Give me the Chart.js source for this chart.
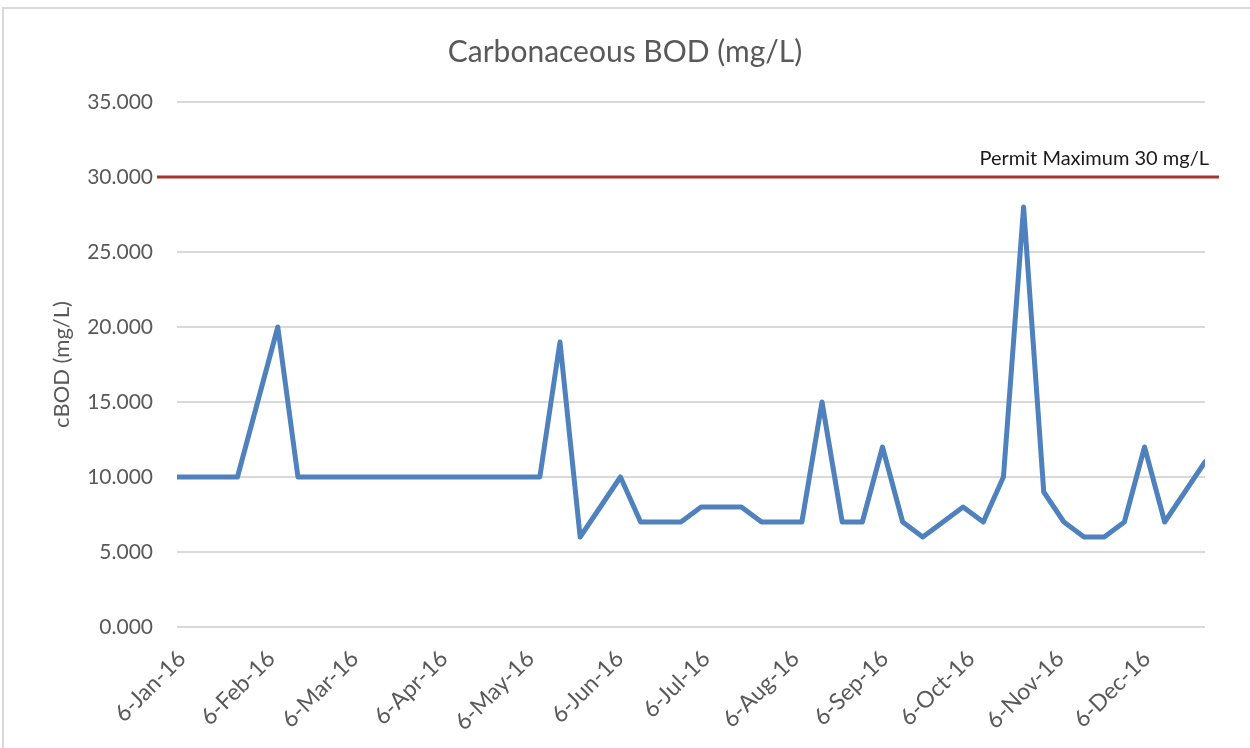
<!DOCTYPE html>
<html>
<head>
<meta charset="utf-8">
<script src="https://cdn.jsdelivr.net/npm/chart.js@4.4.1/dist/chart.umd.min.js"></script>
<style>
  html, body { margin: 0; padding: 0; background: #ffffff; }
  #wrap { width: 1250px; height: 748px; position: relative; }
  canvas { display: block; }
</style>
</head>
<body>
<div id="wrap"><canvas id="c" width="1250" height="748"></canvas></div>
<script>
// ---- Data ----
const sampleDates = [
  '2016-01-06','2016-01-13','2016-01-20','2016-01-27',
  '2016-02-10','2016-02-17','2016-02-24','2016-03-02','2016-03-09','2016-03-16',
  '2016-03-23','2016-03-30','2016-04-06','2016-04-13','2016-04-20','2016-04-27',
  '2016-05-04','2016-05-11','2016-05-18','2016-05-25',
  '2016-06-08','2016-06-15','2016-06-22','2016-06-29','2016-07-06','2016-07-13',
  '2016-07-20','2016-07-27','2016-08-03','2016-08-10','2016-08-17','2016-08-24',
  '2016-08-31','2016-09-07','2016-09-14','2016-09-21',
  '2016-10-05','2016-10-12','2016-10-19','2016-10-26','2016-11-02','2016-11-09',
  '2016-11-16','2016-11-23','2016-11-30','2016-12-07','2016-12-14',
  '2016-12-28'
];
const cbodValues = [
  10, 10, 10, 10,
  20, 10, 10, 10, 10, 10,
  10, 10, 10, 10, 10, 10,
  10, 10, 19, 6,
  10, 7, 7, 7, 8, 8,
  8, 7, 7, 7, 15, 7,
  7, 12, 7, 6,
  8, 7, 10, 28, 9, 7,
  6, 6, 7, 12, 7,
  11
];
const tickDates = [
  '2016-01-06','2016-02-06','2016-03-06','2016-04-06','2016-05-06','2016-06-06',
  '2016-07-06','2016-08-06','2016-09-06','2016-10-06','2016-11-06','2016-12-06'
];
const tickLabels = [
  '6-Jan-16','6-Feb-16','6-Mar-16','6-Apr-16','6-May-16','6-Jun-16',
  '6-Jul-16','6-Aug-16','6-Sep-16','6-Oct-16','6-Nov-16','6-Dec-16'
];
const yTicks = [0, 5, 10, 15, 20, 25, 30, 35];
const permitLimit = 30;
const permitLabel = 'Permit Maximum 30 mg/L';
const chartTitle = 'Carbonaceous BOD (mg/L)';
const yAxisTitle = 'cBOD (mg/L)';

// ---- Helpers ----
const baseDate = Date.UTC(2016, 0, 6);
function dayNum(s) {
  const p = s.split('-').map(Number);
  return Math.round((Date.UTC(p[0], p[1] - 1, p[2]) - baseDate) / 86400000);
}
const points = sampleDates.map((d, i) => ({ x: dayNum(d), y: cbodValues[i] }));
const tickDays = tickDates.map(dayNum);

const FONT = 'Lato, "Open Sans", sans-serif';
const GREY = '#595959';

const frame = {
  id: 'frame',
  beforeDraw(chart) {
    const ctx = chart.ctx;
    ctx.save();
    ctx.fillStyle = '#ffffff';
    ctx.fillRect(0, 0, chart.width, chart.height);
    ctx.strokeStyle = '#d9d9d9';
    ctx.lineWidth = 2;
    ctx.beginPath();
    ctx.moveTo(3, chart.height);
    ctx.lineTo(3, 8);
    ctx.lineTo(chart.width, 8);
    ctx.stroke();
    ctx.restore();
  }
};

const permit = {
  id: 'permit',
  afterDatasetsDraw(chart) {
    const ctx = chart.ctx;
    const a = chart.chartArea;
    const y = chart.scales.y.getPixelForValue(permitLimit);
    ctx.save();
    ctx.strokeStyle = '#a5322f';
    ctx.lineWidth = 3;
    ctx.beginPath();
    ctx.moveTo(a.left - 20, y);
    ctx.lineTo(a.right + 14, y);
    ctx.stroke();
    ctx.fillStyle = '#1a1a1a';
    ctx.font = '20px ' + FONT;
    ctx.textAlign = 'right';
    ctx.textBaseline = 'alphabetic';
    ctx.fillText(permitLabel, a.right + 4, y - 12);
    ctx.restore();
  }
};

new Chart(document.getElementById('c'), {
  type: 'line',
  data: {
    datasets: [{
      label: 'cBOD',
      data: points,
      borderColor: '#4f81bd',
      backgroundColor: '#4f81bd',
      borderWidth: 5,
      pointRadius: 0,
      pointHoverRadius: 0,
      tension: 0,
      borderJoinStyle: 'round',
      borderCapStyle: 'round',
      fill: false
    }]
  },
  options: {
    responsive: false,
    animation: false,
    events: [],
    layout: { padding: { left: 45, right: 45, top: 0, bottom: 0 } },
    plugins: {
      legend: { display: false },
      tooltip: { enabled: false },
      title: {
        display: true,
        text: chartTitle,
        color: GREY,
        font: { family: FONT, size: 30, weight: 'normal', lineHeight: 1.2 },
        padding: { top: 34, bottom: 32 }
      }
    },
    scales: {
      x: {
        type: 'linear',
        min: dayNum(sampleDates[0]),
        max: dayNum(sampleDates[sampleDates.length - 1]),
        grid: { display: false, drawTicks: false },
        border: { display: false },
        afterBuildTicks(scale) {
          scale.ticks = tickDays.map(v => ({ value: v }));
        },
        afterFit(scale) { scale.height = 121; },
        ticks: {
          autoSkip: false,
          maxRotation: 45,
          minRotation: 45,
          padding: 18,
          labelOffset: 5,
          color: GREY,
          font: { family: FONT, size: 23 },
          callback(value, index) { return tickLabels[index]; }
        }
      },
      y: {
        min: yTicks[0],
        max: yTicks[yTicks.length - 1],
        afterBuildTicks(scale) {
          scale.ticks = yTicks.map(v => ({ value: v }));
        },
        afterFit(scale) { scale.width = 132; },
        grid: { color: '#d9d9d9', lineWidth: 2, drawTicks: false },
        border: { display: false },
        ticks: {
          padding: 24,
          color: GREY,
          font: { family: FONT, size: 21 },
          callback(v) { return Number(v).toFixed(3); }
        },
        title: {
          display: true,
          text: yAxisTitle,
          color: GREY,
          font: { family: FONT, size: 22 },
          padding: { top: 4, bottom: 4 }
        }
      }
    }
  },
  plugins: [frame, permit]
});
</script>
</body>
</html>
